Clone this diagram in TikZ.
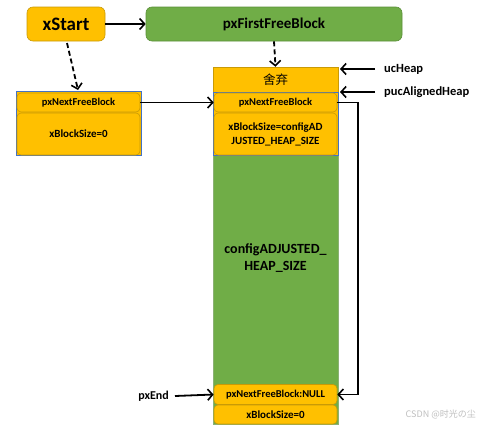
\documentclass[tikz,border=0pt]{standalone}
\usepackage{fontspec}
\setmainfont{Carlito}
\newfontfamily\cjk{Noto Sans CJK SC}
\usetikzlibrary{arrows.meta,positioning}
\definecolor{orng}{HTML}{FFC000}
\definecolor{orngd}{HTML}{C99A06}
\definecolor{grn}{HTML}{70AD47}
\definecolor{grnd}{HTML}{5A8F38}
\definecolor{blu}{HTML}{4472C4}
\tikzset{
  obox/.style={draw=orngd, fill=orng, line width=0.6pt, rounded corners=4pt, inner sep=0pt},
  gbox/.style={draw=grnd, fill=grn, line width=0.6pt, rounded corners=6pt, inner sep=0pt},
  bframe/.style={draw=blu, line width=0.8pt},
  txt/.style={font=\bfseries, text=black, align=center, inner sep=0pt},
  arr/.style={line width=1.8pt, -{Straight Barb[length=5pt,width=11pt,line width=1.6pt]}},
  darr/.style={arr, dash pattern=on 5pt off 3pt}
}
\begin{document}
\begin{tikzpicture}[x=1pt,y=-1pt]
\useasboundingbox (0,0) rectangle (479,426);
% top boxes
\node[obox, minimum width=78pt, minimum height=34pt, rounded corners=6pt] (xs) at (66,24) {};
\node[txt, font=\bfseries\fontsize{19}{21}\selectfont] (xst) at (66,24) {xStart};
\node[gbox, minimum width=256pt, minimum height=34pt] (ff) at (274,24) {};
\node[txt, font=\bfseries\fontsize{15}{17}\selectfont] (fft) at (274,24) {pxFirstFreeBlock};
% left block
\draw[bframe, fill=orng] (16,91) rectangle (141,155);
\node[obox, minimum width=123pt, minimum height=19pt] (ln) at (78.5,102.5) {};
\node[txt, font=\bfseries\fontsize{10.5}{12}\selectfont] (lnt) at (78.5,102.5) {pxNextFreeBlock};
\node[obox, minimum width=123pt, minimum height=42pt] (ls) at (78.5,134) {};
\node[txt, font=\bfseries\fontsize{11}{13}\selectfont] (lst) at (78.5,134) {xBlockSize=0};
% heap column
\node[draw=grnd!70, fill=grn, line width=0.5pt, minimum width=125pt, minimum height=357pt, inner sep=0pt] (heap) at (275.5,245.5) {};
\node[draw=orngd, fill=orng, line width=0.5pt, minimum width=125pt, minimum height=25pt, inner sep=0pt] (disc) at (275.5,79.5) {};
\node[txt, font=\cjk\fontsize{12.5}{14}\selectfont] (disct) at (275.5,79.5) {舍弃};
\draw[bframe, fill=orng] (213,92) rectangle (338,155);
\node[obox, minimum width=123pt, minimum height=19pt] (hn) at (275.5,102.5) {};
\node[txt, font=\bfseries\fontsize{10.5}{12}\selectfont] (hnt) at (275.5,102.5) {pxNextFreeBlock};
\node[obox, minimum width=123pt, minimum height=42pt] (hs) at (275.5,134) {};
\node[txt, font=\bfseries\fontsize{11}{14}\selectfont] (hst) at (275.5,134) {xBlockSize=configAD\\JUSTED\_HEAP\_SIZE};
\node[txt, font=\bfseries\fontsize{14}{16.5}\selectfont] (cfg) at (275.5,258) {configADJUSTED\_\\HEAP\_SIZE};
\node[obox, minimum width=123pt, minimum height=20pt] (en) at (275.5,394.5) {};
\node[txt, font=\bfseries\fontsize{10.5}{12}\selectfont] (ent) at (275.5,394.5) {pxNextFreeBlock:NULL};
\node[obox, minimum width=123pt, minimum height=19pt] (es) at (275.5,414.5) {};
\node[txt, font=\bfseries\fontsize{11}{13}\selectfont] (est) at (275.5,414.5) {xBlockSize=0};
% labels
\node[txt, anchor=west, font=\bfseries\fontsize{12.5}{14}\selectfont] (uc) at (384,69) {ucHeap};
\node[txt, anchor=west, font=\bfseries\fontsize{12.5}{14}\selectfont] (pa) at (384,92) {pucAlignedHeap};
\node[txt, anchor=east, font=\bfseries\fontsize{12}{14}\selectfont] (pe) at (169,396) {pxEnd};
\node[txt, anchor=east, text=black!25, font=\cjk\fontsize{9}{10}\selectfont] (wm) at (476,414) {CSDN @时光の尘};
% coordinates
\coordinate (ucA) at (375,69);
\coordinate (ucB) at (340,69);
\coordinate (paA) at (375,92);
\coordinate (paB) at (340,92);
\coordinate (peA) at (175,396);
\coordinate (xsB) at (67,43);
\coordinate (lnTop) at (78,90);
% arrows
\draw[arr] (xs.east) -- (ff.west);
\draw[darr] (xsB) -- (lnTop);
\draw[darr] (ff.south) -- (disc.north);
\draw[arr] (ln.east) -- (hn.west);
\draw[arr] (ucA) -- (ucB);
\draw[arr] (paA) -- (paB);
\draw[arr] (peA) -- (en.west);
\draw[arr] (hn.east) -- ++(21,0) |- (en.east);
\end{tikzpicture}
\end{document}
